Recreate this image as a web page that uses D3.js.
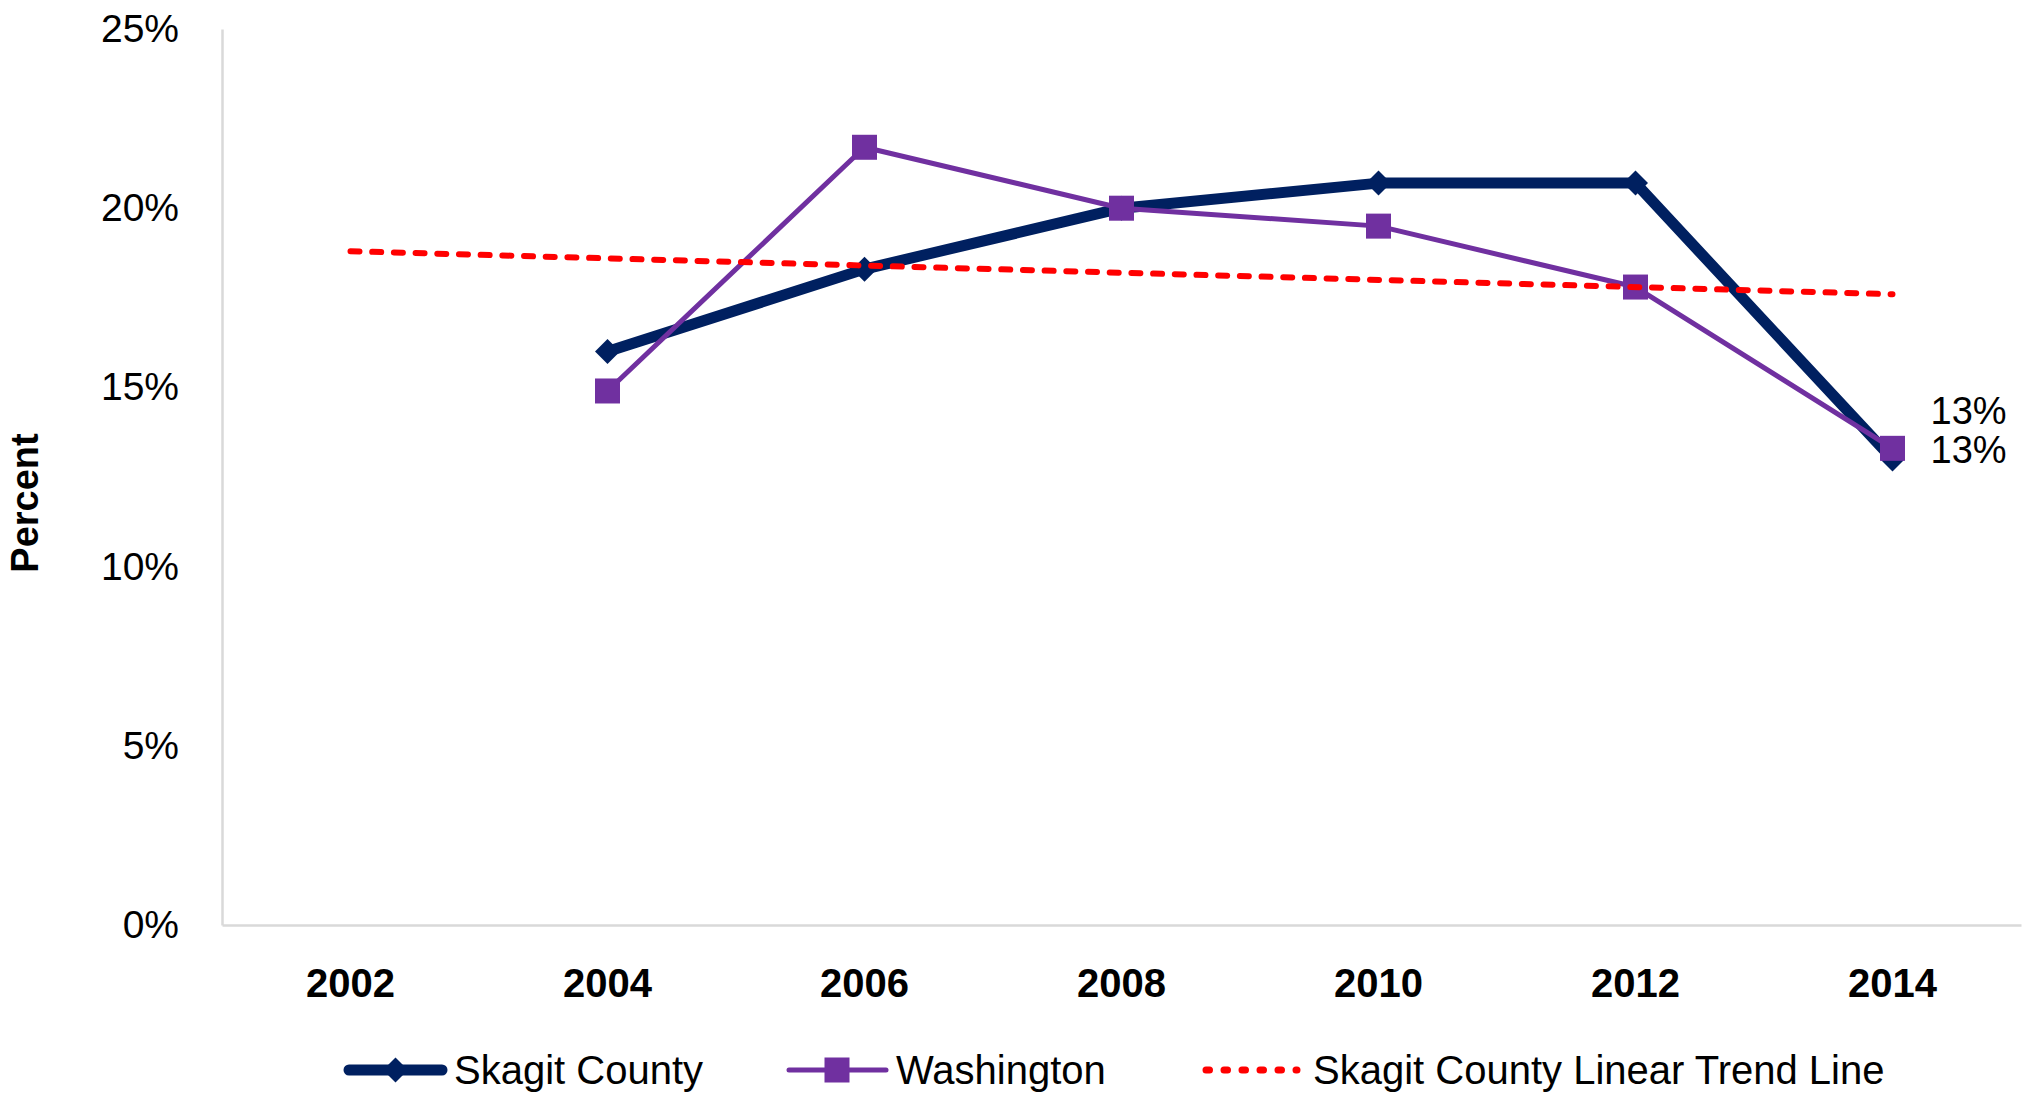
<!DOCTYPE html>
<html>
<head>
<meta charset="utf-8">
<script src="https://cdn.jsdelivr.net/npm/d3@7"></script>
<style>
  html, body { margin: 0; padding: 0; background: #fff; }
  svg { display: block; }
  text { font-family: "Liberation Sans", Arial, sans-serif; fill: #000; }
</style>
</head>
<body>
<svg id="chart" width="2022" height="1099"></svg>
<script>
// ---- Data ----
const years = ["2002", "2004", "2006", "2008", "2010", "2012", "2014"];
const skagitValues = [null, 16.0, 18.3, 20.0, 20.7, 20.7, 13.0];
const washingtonValues = [null, 14.9, 21.7, 20.0, 19.5, 17.8, 13.3];
const trendYears = ["2002", "2014"];
const trendValues = [18.8, 17.6];
const yTicks = [0, 5, 10, 15, 20, 25];
const seriesNames = ["Skagit County", "Washington", "Skagit County Linear Trend Line"];
const endLabels = ["13%", "13%"]; // Skagit, Washington

// ---- Layout ----
const W = 2022, H = 1099;
const plot = { left: 222, right: 2021, top: 29, bottom: 925 };
const colors = { skagit: "#002060", washington: "#7030A0", trend: "#FF0000", axis: "#D9D9D9" };

const svg = d3.select("#chart");

const x = d3.scaleBand().domain(years).range([plot.left, plot.right]).padding(0);
const cx = d => x(d) + x.bandwidth() / 2;
const y = d3.scaleLinear().domain([0, 25]).range([plot.bottom, plot.top]);

// Y axis
const yAxis = svg.append("g")
  .attr("transform", `translate(${plot.left},0)`)
  .call(d3.axisLeft(y).tickValues(yTicks).tickSize(0).tickPadding(43).tickFormat(d => d + "%"));
yAxis.select(".domain").attr("stroke", colors.axis).attr("stroke-width", 2.5);
yAxis.selectAll("text").attr("font-size", 39).attr("font-family", "Liberation Sans, Arial, sans-serif").attr("fill", "#000");

// X axis
const xAxis = svg.append("g")
  .attr("transform", `translate(0,${plot.bottom})`)
  .call(d3.axisBottom(x).tickSize(0).tickPadding(44));
xAxis.select(".domain").attr("stroke", colors.axis).attr("stroke-width", 2.5);
xAxis.selectAll("text").attr("font-size", 40).attr("font-weight", "bold")
  .attr("font-family", "Liberation Sans, Arial, sans-serif").attr("fill", "#000");

// Y axis title
svg.append("text")
  .attr("transform", `translate(25,503) rotate(-90)`)
  .attr("text-anchor", "middle")
  .attr("dy", "0.35em")
  .attr("font-size", 38)
  .attr("font-weight", "bold")
  .text("Percent");

// Series data
const skagit = years.map((yr, i) => ({ yr, v: skagitValues[i] })).filter(d => d.v != null);
const wash = years.map((yr, i) => ({ yr, v: washingtonValues[i] })).filter(d => d.v != null);
const trend = trendYears.map((yr, i) => ({ yr, v: trendValues[i] }));

const line = d3.line().x(d => cx(d.yr)).y(d => y(d.v));

// Skagit County
svg.append("path").datum(skagit)
  .attr("d", line).attr("fill", "none")
  .attr("stroke", colors.skagit).attr("stroke-width", 11)
  .attr("stroke-linejoin", "round").attr("stroke-linecap", "round");
const diamond = r => `M0,${-r}L${r},0L0,${r}L${-r},0Z`;
svg.append("g").selectAll("path").data(skagit).join("path")
  .attr("transform", d => `translate(${cx(d.yr)},${y(d.v)})`)
  .attr("d", diamond(12.5))
  .attr("fill", colors.skagit);

// Washington
svg.append("path").datum(wash)
  .attr("d", line).attr("fill", "none")
  .attr("stroke", colors.washington).attr("stroke-width", 5)
  .attr("stroke-linejoin", "round");
svg.append("g").selectAll("rect").data(wash).join("rect")
  .attr("x", d => cx(d.yr) - 12.5).attr("y", d => y(d.v) - 12.5)
  .attr("width", 25).attr("height", 25)
  .attr("fill", colors.washington);

// Trend line
svg.append("path").datum(trend)
  .attr("d", line).attr("fill", "none")
  .attr("stroke", colors.trend).attr("stroke-width", 6)
  .attr("stroke-linecap", "round")
  .attr("stroke-dasharray", "9,12.7");

// End labels
const lastSk = skagit[skagit.length - 1];
const lastWa = wash[wash.length - 1];
svg.append("text")
  .attr("x", cx(lastSk.yr) + 38).attr("y", y(lastSk.v) - 48)
  .attr("dy", "0.35em").attr("font-size", 38).text(endLabels[0]);
svg.append("text")
  .attr("x", cx(lastWa.yr) + 38).attr("y", y(lastWa.v) + 1)
  .attr("dy", "0.35em").attr("font-size", 38).text(endLabels[1]);

// Legend
const ly = 1070;
const legend = svg.append("g");
// Skagit
legend.append("line").attr("x1", 349).attr("x2", 442).attr("y1", ly).attr("y2", ly)
  .attr("stroke", colors.skagit).attr("stroke-width", 11).attr("stroke-linecap", "round");
legend.append("path").attr("transform", `translate(395.5,${ly})`).attr("d", diamond(12.5)).attr("fill", colors.skagit);
legend.append("text").attr("x", 454).attr("y", ly).attr("dy", "0.35em").attr("font-size", 40).text(seriesNames[0]);
// Washington
legend.append("line").attr("x1", 789).attr("x2", 886).attr("y1", ly).attr("y2", ly)
  .attr("stroke", colors.washington).attr("stroke-width", 5).attr("stroke-linecap", "round");
legend.append("rect").attr("x", 837 - 12.5).attr("y", ly - 12.5).attr("width", 25).attr("height", 25).attr("fill", colors.washington);
legend.append("text").attr("x", 896).attr("y", ly).attr("dy", "0.35em").attr("font-size", 40).text(seriesNames[1]);
// Trend
legend.append("line").attr("x1", 1206).attr("x2", 1297).attr("y1", ly).attr("y2", ly)
  .attr("stroke", colors.trend).attr("stroke-width", 7).attr("stroke-linecap", "round")
  .attr("stroke-dasharray", "3.5,14.5");
legend.append("text").attr("x", 1313).attr("y", ly).attr("dy", "0.35em").attr("font-size", 40).text(seriesNames[2]);
</script>
</body>
</html>
